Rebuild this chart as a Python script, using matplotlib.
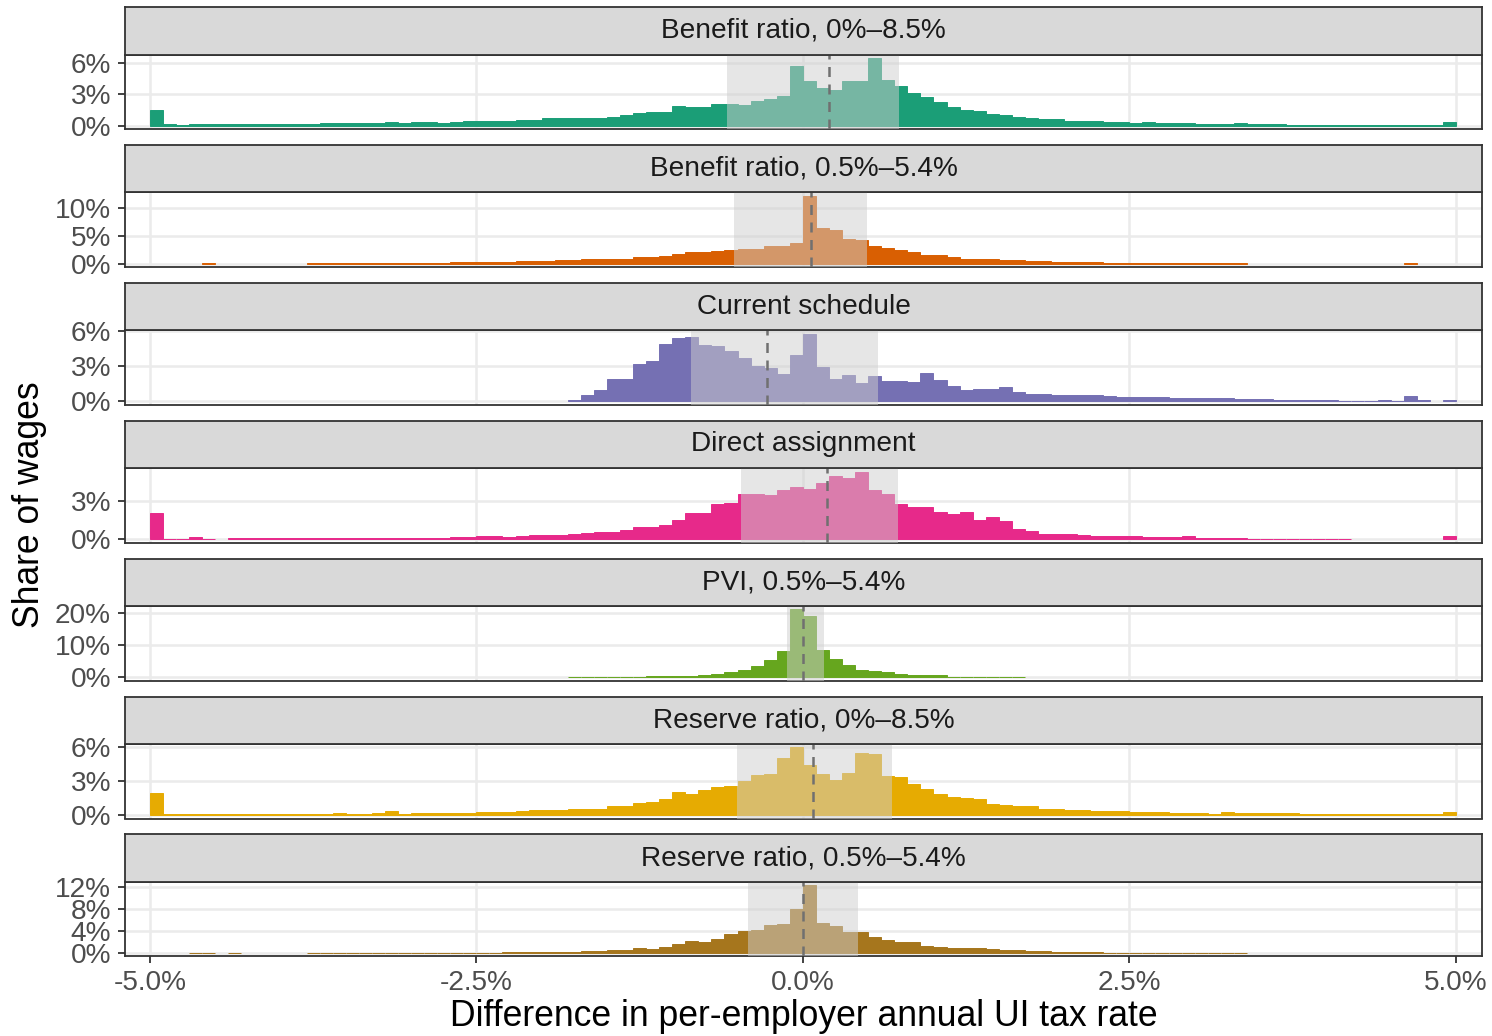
import numpy as np
import matplotlib.pyplot as plt

plt.rcParams['font.family'] = ['Liberation Sans', 'DejaVu Sans']

# histogram bins: 0.1-point wide, from -5% to 5%
bin_left = np.round(np.arange(-5.0, 5.0, 0.1), 1)

# share of wages (%) per bin, one list per schedule
br_wide = [
    1.5, 0.12, 0.05, 0.12, 0.12, 0.12, 0.12, 0.12, 0.12, 0.12,
    0.12, 0.12, 0.12, 0.22, 0.22, 0.22, 0.22, 0.22, 0.3, 0.22,
    0.3, 0.3, 0.22, 0.3, 0.4, 0.4, 0.4, 0.4, 0.5, 0.5,
    0.7, 0.7, 0.7, 0.7, 0.7, 0.82, 1.0, 1.2, 1.3, 1.35,
    1.9, 1.82, 1.82, 2.07, 2.07, 1.98, 2.36, 2.58, 2.83, 5.7,
    4.25, 3.65, 3.46, 4.3, 4.3, 6.5, 4.4, 3.84, 3.11, 2.74,
    2.3, 1.8, 1.5, 1.42, 1.1, 1.0, 0.85, 0.75, 0.6, 0.6,
    0.47, 0.4, 0.4, 0.3, 0.3, 0.22, 0.3, 0.22, 0.22, 0.22,
    0.12, 0.12, 0.12, 0.22, 0.12, 0.12, 0.12, 0.06, 0.06, 0.06,
    0.06, 0.06, 0.06, 0.06, 0.06, 0.06, 0.06, 0.06, 0.06, 0.3,
]
br_narrow = [
    0, 0, 0, 0, 0.12, 0, 0, 0, 0, 0,
    0, 0, 0.12, 0.12, 0.12, 0.12, 0.12, 0.12, 0.12, 0.12,
    0.12, 0.12, 0.12, 0.3, 0.3, 0.3, 0.3, 0.3, 0.5, 0.5,
    0.5, 0.6, 0.6, 0.8, 0.8, 0.8, 0.9, 1.2, 1.2, 1.4,
    1.8, 2.15, 2.15, 2.3, 2.5, 2.55, 2.6, 3.25, 3.25, 3.75,
    12.3, 6.4, 6.1, 4.5, 4.2, 3.25, 2.75, 2.5, 2.1, 1.5,
    1.5, 1.15, 0.85, 0.85, 0.75, 0.55, 0.55, 0.45, 0.45, 0.3,
    0.3, 0.3, 0.3, 0.12, 0.12, 0.12, 0.12, 0.12, 0.12, 0.12,
    0.12, 0.12, 0.12, 0.12, 0, 0, 0, 0, 0, 0,
    0, 0, 0, 0, 0, 0, 0.12, 0, 0, 0,
]
current = [
    0, 0, 0, 0, 0, 0, 0, 0, 0, 0,
    0, 0, 0, 0, 0, 0, 0, 0, 0, 0,
    0, 0, 0, 0, 0, 0, 0, 0, 0, 0,
    0, 0, 0.1, 0.55, 1.0, 1.9, 1.95, 3.2, 3.5, 4.9,
    5.45, 5.5, 4.85, 4.75, 4.35, 3.75, 3.0, 2.85, 2.35, 4.0,
    5.8, 2.95, 1.95, 2.3, 1.6, 2.2, 1.75, 1.75, 1.65, 2.4,
    1.8, 1.3, 1.0, 1.1, 1.05, 1.2, 0.8, 0.65, 0.65, 0.55,
    0.55, 0.55, 0.55, 0.45, 0.38, 0.38, 0.38, 0.38, 0.3, 0.3,
    0.3, 0.3, 0.3, 0.2, 0.2, 0.2, 0.1, 0.1, 0.1, 0.1,
    0.1, 0.04, 0.04, 0.04, 0.1, 0.04, 0.45, 0.1, 0, 0.1,
]
direct = [
    2.04, 0.05, 0.05, 0.2, 0.05, 0, 0.08, 0.08, 0.08, 0.08,
    0.08, 0.08, 0.08, 0.08, 0.08, 0.08, 0.08, 0.08, 0.13, 0.13,
    0.13, 0.13, 0.13, 0.2, 0.2, 0.28, 0.28, 0.2, 0.28, 0.33,
    0.33, 0.33, 0.42, 0.5, 0.55, 0.55, 0.72, 0.93, 0.98, 1.1,
    1.5, 2.04, 2.04, 2.74, 2.8, 3.5, 3.5, 3.45, 3.8, 4.03,
    3.9, 4.34, 4.93, 4.75, 5.25, 3.8, 3.55, 2.74, 2.5, 2.5,
    2.1, 1.96, 2.1, 1.5, 1.7, 1.45, 0.78, 0.62, 0.45, 0.45,
    0.39, 0.33, 0.28, 0.28, 0.28, 0.28, 0.2, 0.2, 0.2, 0.28,
    0.13, 0.13, 0.13, 0.13, 0.05, 0.05, 0.05, 0.05, 0.05, 0.05,
    0.05, 0.05, 0, 0, 0, 0, 0, 0, 0, 0.25,
]
pvi = [
    0, 0, 0, 0, 0, 0, 0, 0, 0, 0,
    0, 0, 0, 0, 0, 0, 0, 0, 0, 0,
    0, 0, 0, 0, 0, 0, 0, 0, 0, 0,
    0, 0, 0.15, 0.15, 0.15, 0.15, 0.15, 0.15, 0.35, 0.35,
    0.35, 0.45, 0.7, 1.15, 1.5, 2.2, 3.4, 5.3, 8.1, 21.2,
    19.3, 8.5, 5.8, 3.9, 2.3, 1.9, 1.5, 1.1, 0.8, 0.7,
    0.7, 0.2, 0.2, 0.2, 0.2, 0.2, 0.2, 0, 0, 0,
    0, 0, 0, 0, 0, 0, 0, 0, 0, 0,
    0, 0, 0, 0, 0, 0, 0, 0, 0, 0,
    0, 0, 0, 0, 0, 0, 0, 0, 0, 0,
]
rr_wide = [
    1.9, 0.09, 0.09, 0.09, 0.09, 0.09, 0.09, 0.09, 0.09, 0.09,
    0.09, 0.09, 0.09, 0.09, 0.2, 0.12, 0.12, 0.2, 0.35, 0.12,
    0.2, 0.2, 0.2, 0.2, 0.2, 0.29, 0.29, 0.29, 0.35, 0.43,
    0.43, 0.43, 0.58, 0.52, 0.58, 0.8, 0.8, 1.04, 1.18, 1.38,
    2.05, 1.82, 2.22, 2.48, 2.54, 3.0, 3.49, 3.6, 4.99, 5.95,
    4.38, 3.57, 3.08, 3.66, 5.5, 5.36, 3.46, 3.37, 2.71, 2.28,
    1.82, 1.58, 1.47, 1.38, 1.0, 0.86, 0.78, 0.78, 0.58, 0.52,
    0.43, 0.43, 0.35, 0.35, 0.35, 0.29, 0.29, 0.29, 0.2, 0.2,
    0.2, 0.12, 0.23, 0.17, 0.17, 0.17, 0.17, 0.17, 0.09, 0.09,
    0.09, 0.09, 0.09, 0.09, 0.09, 0.09, 0.09, 0.09, 0.09, 0.26,
]
rr_narrow = [
    0, 0, 0, 0.06, 0.06, 0, 0.06, 0, 0, 0,
    0, 0, 0.06, 0.06, 0.06, 0.06, 0.06, 0.06, 0.06, 0.06,
    0.06, 0.06, 0.06, 0.06, 0.06, 0.06, 0.06, 0.24, 0.24, 0.24,
    0.24, 0.24, 0.24, 0.42, 0.42, 0.6, 0.6, 0.9, 0.73, 1.15,
    1.7, 2.2, 1.95, 2.55, 3.5, 4.0, 4.25, 5.0, 5.2, 8.0,
    12.3, 5.4, 4.85, 3.8, 3.75, 2.85, 2.36, 2.0, 2.0, 1.27,
    1.1, 0.9, 0.85, 0.85, 0.73, 0.6, 0.6, 0.42, 0.42, 0.24,
    0.24, 0.24, 0.24, 0.06, 0.06, 0.06, 0.06, 0.06, 0.06, 0.06,
    0.06, 0.06, 0.06, 0.06, 0, 0, 0, 0, 0, 0,
    0, 0, 0, 0, 0, 0, 0, 0, 0, 0,
]

titles = ["Benefit ratio, 0%–8.5%", "Benefit ratio, 0.5%–5.4%", "Current schedule",
          "Direct assignment", "PVI, 0.5%–5.4%", "Reserve ratio, 0%–8.5%",
          "Reserve ratio, 0.5%–5.4%"]
series = [br_wide, br_narrow, current, direct, pvi, rr_wide, rr_narrow]
colors = ["#1B9E77", "#D95F02", "#7570B3", "#E7298A", "#66A61E", "#E6AB02", "#A6761D"]
# interquartile range and median of each distribution (%)
q25 = [-0.58, -0.53, -0.86, -0.475, -0.12, -0.505, -0.42]
q75 = [0.74, 0.495, 0.575, 0.73, 0.16, 0.68, 0.42]
medians = [0.2, 0.06, -0.275, 0.185, 0.0, 0.08, 0.0]
yticks = [[0, 3, 6], [0, 5, 10], [0, 3, 6], [0, 3], [0, 10, 20], [0, 3, 6], [0, 4, 8, 12]]
xticks = [-5.0, -2.5, 0.0, 2.5, 5.0]
xticklabels = ["-5.0%", "-2.5%", "0.0%", "2.5%", "5.0%"]

W, H = 1492, 1036
fig = plt.figure(figsize=(W / 100, H / 100), dpi=100)

left, right = 125, 1482
step, strip_h, panel_h = 137.9, 47.5, 74.5
border = "#333333"
small = 20.2
big = 25.6

for i in range(7):
    s_top = 7 + step * i
    s_bot = s_top + strip_h
    p_bot = s_bot + panel_h

    ax = fig.add_axes([left / W, 1 - p_bot / H, (right - left) / W, panel_h / H])
    vals = np.array(series[i])
    keep = vals > 0
    ax.bar(bin_left[keep], vals[keep], width=0.1, align="edge", color=colors[i],
           edgecolor=colors[i], linewidth=0.7, zorder=2)
    ax.axvspan(q25[i], q75[i], color="#CECECE", alpha=0.51, linewidth=0, zorder=3)
    ax.axvline(medians[i], color="#707070", linewidth=1.8, linestyle=(0, (4, 3)), zorder=4)

    m = vals.max()
    ax.set_ylim(-0.05 * m, 1.05 * m)
    ax.set_xlim(-5.19, 5.2)
    ax.set_yticks(yticks[i])
    ax.set_yticklabels([f"{t}%" for t in yticks[i]])
    ax.set_xticks(xticks)
    ax.grid(True, color="#EBEBEB", linewidth=1.8, zorder=0)
    ax.set_axisbelow(True)
    for sp in ax.spines.values():
        sp.set_color(border)
        sp.set_linewidth(1.3)
    ax.tick_params(axis="both", length=5, width=1.3, color=border,
                   labelsize=small, labelcolor="#4D4D4D", pad=5)
    if i == 6:
        ax.set_xticklabels(xticklabels)
    else:
        ax.tick_params(axis="x", length=0, labelbottom=False)

    sax = fig.add_axes([left / W, 1 - s_bot / H, (right - left) / W, strip_h / H])
    sax.set_facecolor("#D9D9D9")
    sax.set_xticks([])
    sax.set_yticks([])
    for sp in sax.spines.values():
        sp.set_color(border)
        sp.set_linewidth(1.3)
    sax.text(0.5, 0.5, titles[i], ha="center", va="center", fontsize=small,
             color="#1A1A1A", transform=sax.transAxes)

fig.text(803.5 / W, 1 - 1017 / H, "Difference in per-employer annual UI tax rate",
         ha="center", va="center", fontsize=big, color="black")
fig.text(30 / W, 1 - 505 / H, "Share of wages", ha="center", va="center",
         rotation=90, fontsize=big, color="black")

plt.savefig("out.png", dpi=100)
